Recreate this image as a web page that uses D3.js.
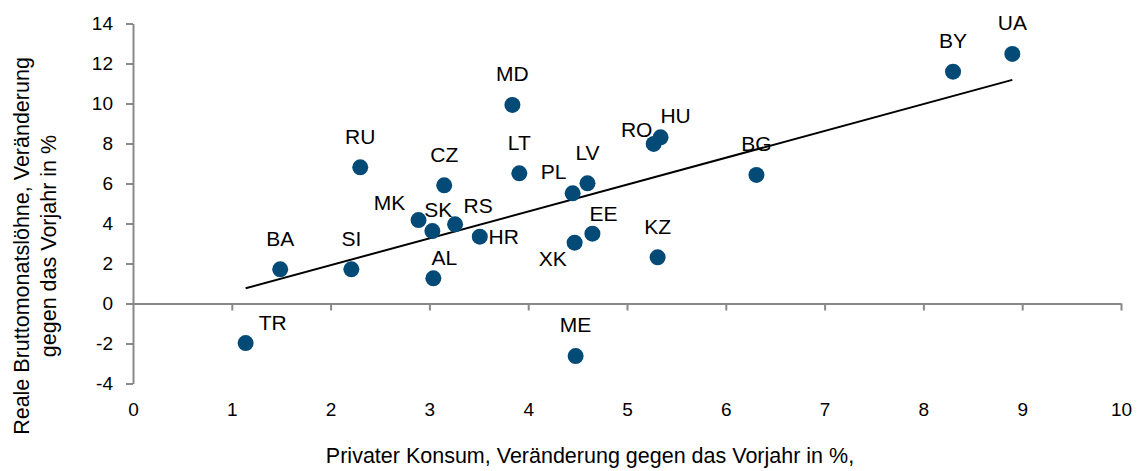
<!DOCTYPE html>
<html>
<head>
<meta charset="utf-8">
<script src="https://cdn.jsdelivr.net/npm/d3@7"></script>
<style>
  body { margin: 0; background: #fff; }
  text { font-family: "Liberation Sans", Arial, sans-serif; fill: #000; }
</style>
</head>
<body>
<svg id="chart" width="1140" height="471"></svg>
<script>

// --> DATA

var countries = ["TR", "BA", "SI", "AL", "ME", "KZ", "XK", "EE", "HR", "RS", "SK", "MK",
                 "CZ", "RU", "LT", "MD", "PL", "LV", "RO", "HU", "BG", "BY", "UA"];
var konsum    = [1.14, 1.49, 2.21, 3.04, 4.48, 5.31, 4.47, 4.65, 3.51, 3.26, 3.03, 2.89,
                 3.15, 2.30, 3.91, 3.84, 4.45, 4.60, 5.27, 5.34, 6.31, 8.30, 8.90];
var loehne    = [-1.98, 1.71, 1.71, 1.26, -2.63, 2.31, 3.04, 3.49, 3.34, 3.96, 3.62, 4.17,
                 5.91, 6.81, 6.51, 9.93, 5.51, 6.01, 7.98, 8.31, 6.43, 11.59, 12.48];

// trend line end points
var trendX = [1.14, 8.90];
var trendY = [0.76, 11.18];

var xTicks = [0, 1, 2, 3, 4, 5, 6, 7, 8, 9, 10];
var yTicks = [-4, -2, 0, 2, 4, 6, 8, 10, 12, 14];

var yTitle = ["Reale Bruttomonatslöhne, Veränderung", "gegen das Vorjahr in %"];
var xTitle = "Privater Konsum, Veränderung gegen das Vorjahr in %,";

// label placement relative to the dot (dx, dy), layout only
var labelOffset = {
    TR: [27, -20], AL: [11, -21], XK: [-22, 16], EE: [11, -20], HR: [24, 0],
    RS: [23, -19], SK: [6, -21], MK: [-29, -17], PL: [-19, -22], RO: [-17, -14],
    HU: [15, -22]
};

var svg = d3.select("#chart");

var x = d3.scaleLinear().domain([0, 10]).range([133, 1121]);
var y = d3.scaleLinear().domain([-4, 14]).range([383.5, 23.5]);

var axisColor = "#898989";
var plain = function(d) { return String(d); };   // keep the hyphen minus

// y axis
var yAxis = svg.append("g")
    .attr("transform", "translate(" + x(0) + ",0)")
    .call(d3.axisLeft(y).tickValues(yTicks).tickFormat(plain)
        .tickSize(7).tickSizeOuter(0).tickPadding(13));

// x axis at zero, labels below the plot
var xAxis = svg.append("g")
    .attr("transform", "translate(0," + y(0) + ")")
    .call(d3.axisBottom(x).tickValues(xTicks).tickFormat(plain)
        .tickSize(7).tickSizeOuter(0));

xAxis.selectAll("text")
    .attr("y", 409 - y(0))
    .attr("dy", "0.35em");

[xAxis, yAxis].forEach(function(g) {
    g.select(".domain").attr("stroke", axisColor).attr("stroke-width", 2);
    g.selectAll(".tick line").attr("stroke", axisColor).attr("stroke-width", 2);
    g.selectAll(".tick text").style("font-size", "19px").attr("fill", "#000");
});
xAxis.selectAll(".tick").filter(function(d) { return d === 0; }).select("line").remove();

// trend line
svg.append("line")
    .attr("x1", x(trendX[0])).attr("y1", y(trendY[0]))
    .attr("x2", x(trendX[1])).attr("y2", y(trendY[1]))
    .attr("stroke", "#000")
    .attr("stroke-width", 2);

var points = countries.map(function(c, i) {
    return { name: c, kx: konsum[i], ly: loehne[i] };
});

// dots
svg.append("g").selectAll("circle")
    .data(points)
    .enter().append("circle")
    .attr("cx", function(d) { return x(d.kx); })
    .attr("cy", function(d) { return y(d.ly); })
    .attr("r", 8)
    .attr("fill", "#044a77");

// labels
svg.append("g").selectAll("text")
    .data(points)
    .enter().append("text")
    .attr("x", function(d) { return x(d.kx) + (labelOffset[d.name] || [0, -31])[0]; })
    .attr("y", function(d) { return y(d.ly) + (labelOffset[d.name] || [0, -31])[1]; })
    .attr("text-anchor", "middle")
    .attr("dy", "0.35em")
    .style("font-size", "21px")
    .text(function(d) { return d.name; });

// axis titles
var yt = svg.append("text")
    .attr("transform", "translate(35,246) rotate(-90)")
    .attr("text-anchor", "middle")
    .style("font-size", "21.5px");
yt.selectAll("tspan")
    .data(yTitle)
    .enter().append("tspan")
    .attr("x", 0)
    .attr("dy", function(d, i) { return i === 0 ? "-0.3em" : "1.3em"; })
    .text(function(d) { return d; });

svg.append("text")
    .attr("x", 590)
    .attr("y", 455)
    .attr("dy", "0.35em")
    .attr("text-anchor", "middle")
    .style("font-size", "21.5px")
    .text(xTitle);

</script>
</body>
</html>
